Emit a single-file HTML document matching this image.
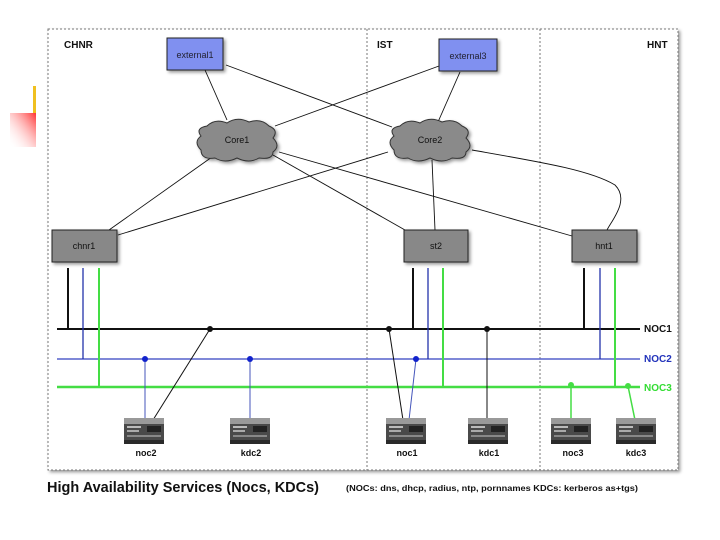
<!DOCTYPE html>
<html><head><meta charset="utf-8"><style>
html,body{margin:0;padding:0;background:#fff;width:720px;height:540px;overflow:hidden}
svg{display:block}
text{font-family:"Liberation Sans",sans-serif}
</style></head><body>
<svg width="720" height="540" viewBox="0 0 720 540" xmlns="http://www.w3.org/2000/svg">
<defs>
<linearGradient id="rg" x1="1" y1="0" x2="0" y2="1"><stop offset="0" stop-color="#f33"/><stop offset="1" stop-color="#fff" stop-opacity="0"/></linearGradient>
<filter id="sh" x="-20%" y="-20%" width="150%" height="150%"><feDropShadow dx="2" dy="2" stdDeviation="1.5" flood-opacity="0.4"/></filter>
<g id="srv">
<rect x="-20" y="0" width="40" height="26" rx="2" fill="#4a4a4a"/>
<rect x="-20" y="0" width="40" height="6" fill="#999"/>
<rect x="-17" y="8" width="14" height="2" fill="#bbb"/><rect x="-17" y="12" width="12" height="2" fill="#aaa"/>
<rect x="3" y="8" width="14" height="6" fill="#222"/><rect x="-17" y="17" width="34" height="2" fill="#888"/>
<rect x="-20" y="22" width="40" height="4" fill="#2a2a2a"/>
</g>
<g id="cloud" fill="#8a8a8a" stroke="#333" stroke-width="1" filter="url(#sh)">
<path d="M-30,-14 Q-22,-22 -10,-17 Q0,-24 12,-18 Q24,-22 32,-14 Q42,-10 36,-2 Q44,6 36,12 Q36,20 22,18 Q12,24 0,18 Q-12,24 -22,18 Q-36,20 -36,10 Q-44,2 -36,-4 Q-42,-12 -30,-14Z"/>
</g>
</defs>
<rect x="33" y="86" width="3" height="27" fill="#f0c020"/>
<rect x="10" y="113" width="26" height="34" fill="url(#rg)"/>
<rect x="48" y="29" width="630" height="441" fill="#fff" stroke="#777" stroke-dasharray="2,2" filter="url(#sh)"/>
<line x1="367" y1="29" x2="367" y2="470" stroke="#777" stroke-dasharray="2,2"/>
<line x1="540" y1="29" x2="540" y2="470" stroke="#777" stroke-dasharray="2,2"/>
<g font-weight="bold" font-size="10" fill="#111">
<text x="64" y="48">CHNR</text><text x="377" y="48">IST</text><text x="647" y="48">HNT</text>
</g>
<g stroke="#111" stroke-width="0.9" fill="none">
<line x1="205" y1="70" x2="227" y2="120"/>
<line x1="226" y1="65" x2="392" y2="127"/>
<line x1="439" y1="66" x2="275" y2="126"/>
<line x1="460" y1="72" x2="438" y2="122"/>
<line x1="212" y1="157" x2="109" y2="230"/>
<line x1="118" y1="235" x2="388" y2="152"/>
<line x1="279" y1="152" x2="572" y2="236"/>
<line x1="273" y1="155" x2="405" y2="230"/>
<line x1="432" y1="160" x2="435" y2="230"/>
<path d="M472,150 C540,162 590,170 615,185 C630,200 612,220 607,230"/>
</g>
<rect x="167" y="38" width="56" height="32" fill="#8090f0" stroke="#222" filter="url(#sh)"/>
<text x="195" y="58" font-size="9" text-anchor="middle" fill="#223">external1</text>
<rect x="439" y="39" width="58" height="32" fill="#8090f0" stroke="#222" filter="url(#sh)"/>
<text x="468" y="59" font-size="9" text-anchor="middle" fill="#223">external3</text>
<use href="#cloud" transform="translate(237,140)"/>
<text x="237" y="143" font-size="9" text-anchor="middle" fill="#111">Core1</text>
<use href="#cloud" transform="translate(430,140)"/>
<text x="430" y="143" font-size="9" text-anchor="middle" fill="#111">Core2</text>
<g fill="#888" stroke="#222" filter="url(#sh)">
<rect x="52" y="230" width="65" height="32"/><rect x="404" y="230" width="64" height="32"/><rect x="572" y="230" width="65" height="32"/>
</g>
<g font-size="9" text-anchor="middle" fill="#111"><text x="84" y="249">chnr1</text><text x="436" y="249">st2</text><text x="604" y="249">hnt1</text></g>
<g stroke-width="2">
<line x1="57" y1="329" x2="640" y2="329" stroke="#111"/>
<line x1="57" y1="359" x2="640" y2="359" stroke="#5560cc" stroke-width="1.5"/>
<line x1="57" y1="387" x2="640" y2="387" stroke="#44dd44" stroke-width="2.5"/>
<line x1="68" y1="268" x2="68" y2="329" stroke="#111"/>
<line x1="83" y1="268" x2="83" y2="359" stroke="#2233aa" stroke-width="1.3"/>
<line x1="99" y1="268" x2="99" y2="387" stroke="#44dd44" stroke-width="2"/>
<line x1="413" y1="268" x2="413" y2="329" stroke="#111"/>
<line x1="428" y1="268" x2="428" y2="359" stroke="#2233aa" stroke-width="1.3"/>
<line x1="443" y1="268" x2="443" y2="387" stroke="#44dd44" stroke-width="2"/>
<line x1="584" y1="268" x2="584" y2="329" stroke="#111"/>
<line x1="600" y1="268" x2="600" y2="359" stroke="#2233aa" stroke-width="1.3"/>
<line x1="615" y1="268" x2="615" y2="387" stroke="#44dd44" stroke-width="2"/>
</g>
<g stroke-width="1">
<line x1="145" y1="359" x2="145" y2="420" stroke="#4455bb"/>
<line x1="153" y1="420" x2="210" y2="329" stroke="#111"/>
<line x1="250" y1="359" x2="250" y2="420" stroke="#4455bb"/>
<line x1="389" y1="329" x2="403" y2="420" stroke="#111"/>
<line x1="416" y1="359" x2="409" y2="420" stroke="#4455bb"/>
<line x1="487" y1="329" x2="487" y2="420" stroke="#111"/>
<line x1="571" y1="385" x2="571" y2="420" stroke="#44dd44" stroke-width="1.5"/>
<line x1="628" y1="386" x2="635" y2="420" stroke="#44dd44" stroke-width="1.5"/>
</g>
<g><circle cx="210" cy="329" r="3" fill="#111"/><circle cx="389" cy="329" r="3" fill="#111"/><circle cx="487" cy="329" r="3" fill="#111"/>
<circle cx="145" cy="359" r="3" fill="#1122cc"/><circle cx="250" cy="359" r="3" fill="#1122cc"/><circle cx="416" cy="359" r="3" fill="#1122cc"/>
<circle cx="571" cy="385" r="3" fill="#44dd44"/><circle cx="628" cy="386" r="3" fill="#44dd44"/></g>
<g font-size="10" font-weight="bold"><text x="644" y="332" fill="#111">NOC1</text><text x="644" y="362" fill="#2233bb">NOC2</text><text x="644" y="391" fill="#33dd33">NOC3</text></g>
<use href="#srv" x="144" y="418"/><use href="#srv" x="250" y="418"/><use href="#srv" x="406" y="418"/>
<use href="#srv" x="488" y="418"/><use href="#srv" x="571" y="418"/><use href="#srv" x="636" y="418"/>
<g font-size="9" font-weight="bold" text-anchor="middle" fill="#111">
<text x="146" y="456">noc2</text><text x="251" y="456">kdc2</text><text x="407" y="456">noc1</text>
<text x="489" y="456">kdc1</text><text x="573" y="456">noc3</text><text x="636" y="456">kdc3</text>
</g>
<text x="47" y="492" font-size="15" font-weight="bold" fill="#111" textLength="272" lengthAdjust="spacingAndGlyphs">High Availability Services (Nocs, KDCs)</text>
<text x="346" y="491" font-size="8.5" font-weight="bold" fill="#111" textLength="292" lengthAdjust="spacingAndGlyphs">(NOCs: dns, dhcp, radius, ntp, pornnames  KDCs: kerberos as+tgs)</text>
</svg>
</body></html>
